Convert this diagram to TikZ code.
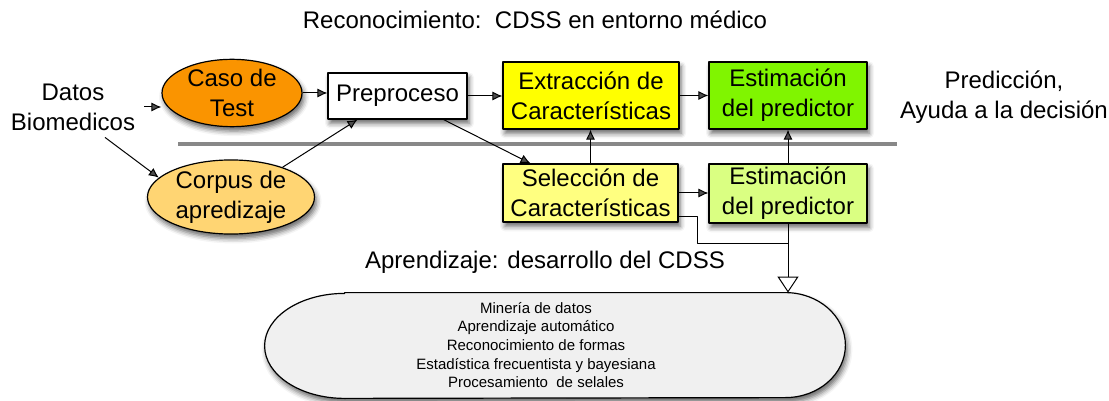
\documentclass[tikz,border=0pt]{standalone}
\usepackage{fontspec}
\setmainfont{Liberation Sans}
\usetikzlibrary{arrows.meta,shapes.geometric,shadows.blur}
\definecolor{naranja}{RGB}{250,148,0}
\definecolor{naranjaclaro}{RGB}{255,213,115}
\definecolor{amarillo}{RGB}{255,255,0}
\definecolor{amarilloclaro}{RGB}{255,255,128}
\definecolor{verde}{RGB}{128,245,0}
\definecolor{verdeclaro}{RGB}{218,255,130}
\definecolor{grisfondo}{RGB}{240,240,240}
\begin{document}
\begin{tikzpicture}[x=0.5pt,y=-0.5pt,>={Latex[length=5pt,width=4.5pt]},
	font=\fontsize{12}{15}\selectfont, line join=round,
	sombra/.style={blur shadow={shadow xshift=1pt,shadow yshift=-2.2pt,shadow blur radius=2.5pt,shadow opacity=60}},
	caja/.style={draw,line width=0.6pt,align=center,inner sep=0pt,sombra},
	elipse/.style={ellipse,draw,line width=0.6pt,align=center,inner sep=0pt,sombra},
	flecha/.style={->,line width=0.5pt}]
	\useasboundingbox (0,0) rectangle (1109,401);
	\node (titulo) at (535,20) {Reconocimiento:\ \ CDSS en entorno m\'edico};
	\node[align=center] (datos) at (73,107) {Datos\\Biomedicos};
	\node[elipse,fill=naranja,minimum width=70pt,minimum height=33pt] (caso) at (232,93) {Caso de\\Test};
	\node[elipse,fill=naranjaclaro,minimum width=83.5pt,minimum height=37pt] (corpus) at (231,197) {Corpus de\\apredizaje};
	\node[caja,fill=white,minimum width=69.5pt,minimum height=23pt] (prep) at (397.5,96) {Preproceso};
	\node[caja,fill=amarillo,minimum width=88pt,minimum height=33.5pt] (ext) at (591,95.5) {Extracci\'on de\\Caracter\'isticas};
	\node[caja,fill=verde,minimum width=79pt,minimum height=33.5pt] (esttop) at (788,95.5) {Estimaci\'on\\del predictor};
	\node[caja,fill=amarilloclaro,minimum width=87.5pt,minimum height=29pt] (sel) at (590.5,193) {Selecci\'on de\\Caracter\'isticas};
	\node[caja,fill=verdeclaro,minimum width=79pt,minimum height=29.5pt] (estbot) at (788,193.5) {Estimaci\'on\\del predictor};
	\node[align=center] (pred) at (1004,97.5) {Predicci\'on,\\Ayuda a la decisi\'on};
	\node (aprend) at (545,262) {Aprendizaje: desarrollo del CDSS};
	% separador
	\draw[line width=2pt,color={rgb,255:red,136;green,136;blue,136}] (178,144) -- (897,144);
	% saberes
	\node[minimum width=290pt,minimum height=52.5pt] (saber) at (555,345.5) {};
	\filldraw[fill=grisfondo,line width=0.6pt,sombra] ([xshift=40pt]saber.north west) -- ([xshift=-30pt]saber.north east)
		arc[start angle=90,end angle=-90,x radius=30pt,y radius=26.25pt] -- ([xshift=40pt]saber.south west)
		arc[start angle=270,end angle=90,x radius=40pt,y radius=26.25pt] -- cycle;
	\node[align=center,font=\fontsize{7.5}{9.35}\selectfont] (saberes) at (536,345) {Miner\'ia de datos\\Aprendizaje autom\'atico\\Reconocimiento de formas\\Estad\'istica frecuentista y bayesiana\\Procesamiento\ \ de selales};
	\coordinate (junta) at (788,243);
	% flechas
	\draw[flecha] ([xshift=1pt]datos.east) -- (caso.west |- datos.east);
	\draw[flecha] ([xshift=16pt]datos.south) -- (corpus.165);
	\draw[flecha] (caso.east) -- (caso.east -| prep.west);
	\draw[flecha] (corpus.30) -- ([xshift=-20pt]prep.south);
	\draw[flecha] (prep.east) -- (prep.east -| ext.west);
	\draw[flecha] ([xshift=-12pt]prep.south east) -- ([xshift=-30pt]sel.north);
	\draw[flecha] (ext) -- (esttop);
	\draw[flecha] (sel.north) -- (sel.north |- ext.south);
	\draw[flecha] (estbot.north) -- (esttop.south);
	\draw[flecha] (sel.east) -- (sel.east -| estbot.west);
	\draw[line width=0.5pt] ([yshift=-11.5pt]sel.east) -- ++(9.5pt,0) |- (junta);
	\draw[line width=0.5pt,-{Triangle[open,length=8pt,width=10.5pt]}] (estbot.south) -- (estbot.south |- saber.north);
\end{tikzpicture}
\end{document}
